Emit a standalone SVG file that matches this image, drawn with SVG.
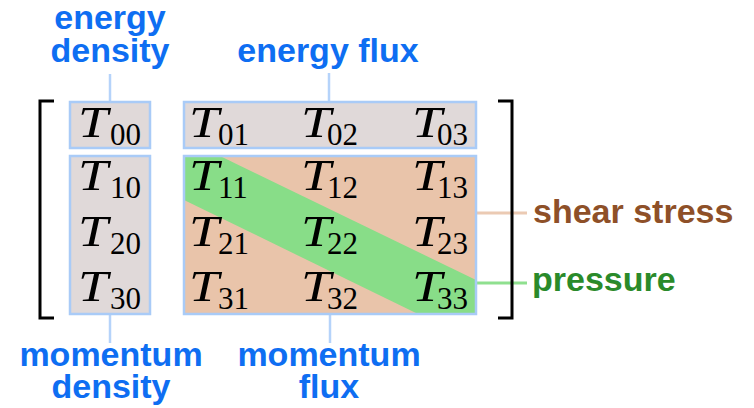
<svg xmlns="http://www.w3.org/2000/svg" width="754" height="408" viewBox="0 0 754 408">
<style>
.box{stroke:#a9cbf7;stroke-width:2.5}
.grey{fill:#e0d9d9}
.peach{fill:#e9c4aa}
.T{font-family:"Liberation Serif","Times New Roman",serif;font-style:italic;font-size:45px;fill:#000}
.s{font-family:"Liberation Serif","Times New Roman",serif;font-size:31px;fill:#000}
.lbl{font-family:"Liberation Sans",Arial,sans-serif;font-weight:bold;font-size:34px;text-anchor:middle;fill:#0e6ef2}
.lbl2{font-family:"Liberation Sans",Arial,sans-serif;font-weight:bold;font-size:34px}
.conn{stroke:#b5d3fa;stroke-width:2.5;fill:none}
.br{stroke:#000;stroke-width:3;fill:none}
</style>
<g id="connectors">
<line class="conn" x1="110" y1="74" x2="110" y2="102"/>
<line class="conn" x1="329" y1="73" x2="329" y2="102"/>
<line class="conn" x1="110" y1="314" x2="110" y2="343"/>
<line class="conn" x1="330" y1="314" x2="330" y2="343"/>
<line x1="476" y1="213" x2="527" y2="213" stroke="#ebcab3" stroke-width="3"/>
<line x1="476" y1="283" x2="527" y2="283" stroke="#8fe08f" stroke-width="3"/>
</g>
<g id="energy-density-box">
<rect class="box grey" x="70" y="102" width="80" height="46"/>
</g>
<g id="momentum-density-box">
<rect class="box grey" x="70" y="156" width="80" height="158"/>
</g>
<g id="energy-flux-box">
<rect class="box grey" x="184" y="102" width="292" height="46"/>
</g>
<g id="stress-box">
<rect class="peach" x="184" y="156" width="292" height="158"/>
<polygon points="184,156 220,156 476,280 476,314 418,314 184,200" fill="#88dd88"/>
<rect x="184" y="156" width="292" height="158" fill="none" class="box"/>
</g>
<g id="brackets">
<polyline class="br" points="54,101 40,101 40,318 54,318"/>
<polyline class="br" points="498,101 512,101 512,318 498,318"/>
</g>
<g id="entries">
<text class="T" x="78" y="137" textLength="30" lengthAdjust="spacingAndGlyphs">T</text><text class="s" x="110" y="145">00</text>
<text class="T" x="189" y="137" textLength="30" lengthAdjust="spacingAndGlyphs">T</text><text class="s" x="218" y="145">01</text>
<text class="T" x="301" y="137" textLength="30" lengthAdjust="spacingAndGlyphs">T</text><text class="s" x="327" y="145">02</text>
<text class="T" x="412" y="137" textLength="30" lengthAdjust="spacingAndGlyphs">T</text><text class="s" x="437" y="145">03</text>

<text class="T" x="78" y="190" textLength="30" lengthAdjust="spacingAndGlyphs">T</text><text class="s" x="110" y="198">10</text>
<text class="T" x="189" y="190" textLength="30" lengthAdjust="spacingAndGlyphs">T</text><text class="s" x="218" y="198">11</text>
<text class="T" x="301" y="190" textLength="30" lengthAdjust="spacingAndGlyphs">T</text><text class="s" x="327" y="198">12</text>
<text class="T" x="412" y="190" textLength="30" lengthAdjust="spacingAndGlyphs">T</text><text class="s" x="437" y="198">13</text>

<text class="T" x="78" y="246" textLength="30" lengthAdjust="spacingAndGlyphs">T</text><text class="s" x="110" y="254">20</text>
<text class="T" x="189" y="246" textLength="30" lengthAdjust="spacingAndGlyphs">T</text><text class="s" x="218" y="254">21</text>
<text class="T" x="301" y="246" textLength="30" lengthAdjust="spacingAndGlyphs">T</text><text class="s" x="327" y="254">22</text>
<text class="T" x="412" y="246" textLength="30" lengthAdjust="spacingAndGlyphs">T</text><text class="s" x="437" y="254">23</text>

<text class="T" x="78" y="301" textLength="30" lengthAdjust="spacingAndGlyphs">T</text><text class="s" x="110" y="309">30</text>
<text class="T" x="189" y="301" textLength="30" lengthAdjust="spacingAndGlyphs">T</text><text class="s" x="218" y="309">31</text>
<text class="T" x="301" y="301" textLength="30" lengthAdjust="spacingAndGlyphs">T</text><text class="s" x="327" y="309">32</text>
<text class="T" x="412" y="301" textLength="30" lengthAdjust="spacingAndGlyphs">T</text><text class="s" x="437" y="309">33</text>
</g>
<g id="label-energy-density">
<text class="lbl" x="110" y="29">energy</text>
<text class="lbl" x="110" y="62">density</text>
</g>
<g id="label-energy-flux">
<text class="lbl" x="328" y="62">energy flux</text>
</g>
<g id="label-momentum-density">
<text class="lbl" x="111" y="366">momentum</text>
<text class="lbl" x="111" y="398">density</text>
</g>
<g id="label-momentum-flux">
<text class="lbl" x="329" y="366">momentum</text>
<text class="lbl" x="329" y="398">flux</text>
</g>
<g id="label-shear-stress">
<text class="lbl2" x="533" y="223" fill="#8e5028">shear stress</text>
</g>
<g id="label-pressure">
<text class="lbl2" x="532" y="291" fill="#2a8a2a">pressure</text>
</g>
</svg>
